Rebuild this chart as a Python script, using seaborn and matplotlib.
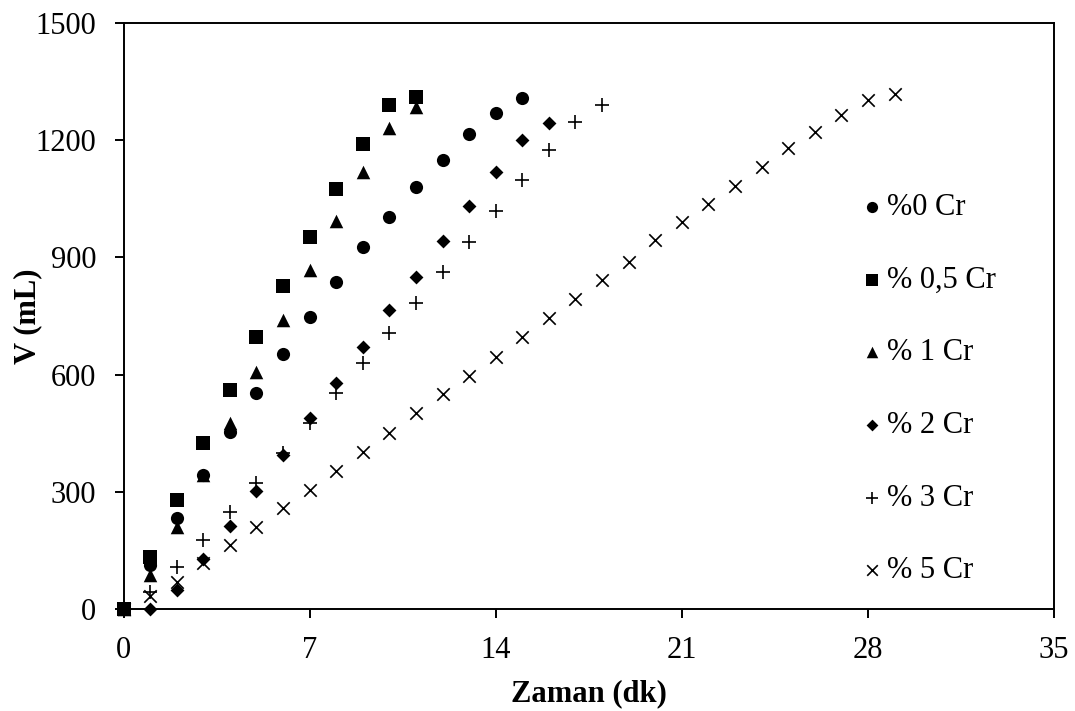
import matplotlib
matplotlib.use("Agg")
import matplotlib.pyplot as plt
import seaborn as sns
import pandas as pd

# ---- data ----
t_0 = list(range(0, 16))
v_0 = [0, 113, 232, 343, 454, 552, 653, 747, 837, 926, 1004, 1081, 1149, 1216, 1269, 1307]

t_05 = list(range(0, 12))
v_05 = [0, 134, 279, 424, 560, 697, 827, 953, 1075, 1189, 1290, 1311]

t_1 = list(range(0, 12))
v_1 = [0, 87, 211, 342, 475, 607, 740, 868, 992, 1118, 1230, 1284]

t_2 = list(range(0, 17))
v_2 = [0, 0, 49, 127, 212, 302, 394, 488, 579, 670, 764, 851, 943, 1031, 1119, 1200, 1245]

t_3 = list(range(0, 19))
v_3 = [0, 44, 107, 177, 249, 322, 398, 475, 552, 629, 706, 782, 862, 940, 1019, 1098, 1175, 1247, 1290]

t_5 = list(range(0, 30))
v_5 = [0, 32, 70, 117, 164, 211, 258, 305, 354, 403, 451, 501, 550, 597, 646, 695, 744, 793,
       842, 889, 944, 990, 1037, 1083, 1132, 1179, 1222, 1264, 1303, 1317]

labels = ["%0 Cr", "% 0,5 Cr", "% 1 Cr", "% 2 Cr", "% 3 Cr", "% 5 Cr"]
x_ticks = [0, 7, 14, 21, 28, 35]
y_ticks = [0, 300, 600, 900, 1200, 1500]

series = [(t_0, v_0), (t_05, v_05), (t_1, v_1), (t_2, v_2), (t_3, v_3), (t_5, v_5)]
frames = []
for lab, (t, v) in zip(labels, series):
    frames.append(pd.DataFrame({"t": t, "V": v, "seri": lab}))
df = pd.concat(frames, ignore_index=True)

sns.set_theme(style="white")
plt.rcParams["font.family"] = ["Liberation Serif", "DejaVu Serif"]

FS = 22

fig = plt.figure(figsize=(10.75, 7.11), dpi=100)
ax = fig.add_axes([0.1149, 0.1435, 0.8656, 0.8242])

styles = {
    "%0 Cr": dict(marker="o", s=90, linewidth=0),
    "% 0,5 Cr": dict(marker="s", s=88, linewidth=0),
    "% 1 Cr": dict(marker="^", s=95, linewidth=0),
    "% 2 Cr": dict(marker="D", s=50, linewidth=0),
    "% 3 Cr": dict(marker="+", s=95, linewidth=1.2),
    "% 5 Cr": dict(marker="x", s=80, linewidth=1.2),
}

for lab in labels:
    sub = df[df["seri"] == lab]
    sns.scatterplot(data=sub, x="t", y="V", ax=ax, color="black", label=lab,
                    clip_on=False, zorder=3, **styles[lab])

ax.set_xlim(0, 35)
ax.set_ylim(0, 1500)
ax.set_xticks(x_ticks)
ax.set_yticks(y_ticks)
ax.tick_params(axis="both", which="major", direction="out", length=6.5, width=1.4,
               labelsize=FS, color="black", labelcolor="black",
               bottom=True, left=True, top=False, right=False, pad=13)
for sp in ax.spines.values():
    sp.set_visible(True)
    sp.set_color("black")
    sp.set_linewidth(1.4)

ax.set_xlabel("Zaman (dk)", fontsize=FS, fontweight="bold", color="black")
ax.set_ylabel("V (mL)", fontsize=FS, fontweight="bold", color="black")
ax.xaxis.set_label_coords(0.5, -0.1195)
ax.yaxis.set_label_coords(-0.0876, 0.5)

leg = ax.legend(loc="upper left", bbox_to_anchor=(0.791, 0.71), frameon=False,
                fontsize=FS, labelspacing=1.43, handletextpad=0.1, markerscale=0.85,
                borderaxespad=0.0, borderpad=0.0, handlelength=0.8)
for txt in leg.get_texts():
    txt.set_color("black")

fig.savefig("out.png", dpi=100, facecolor="white")
